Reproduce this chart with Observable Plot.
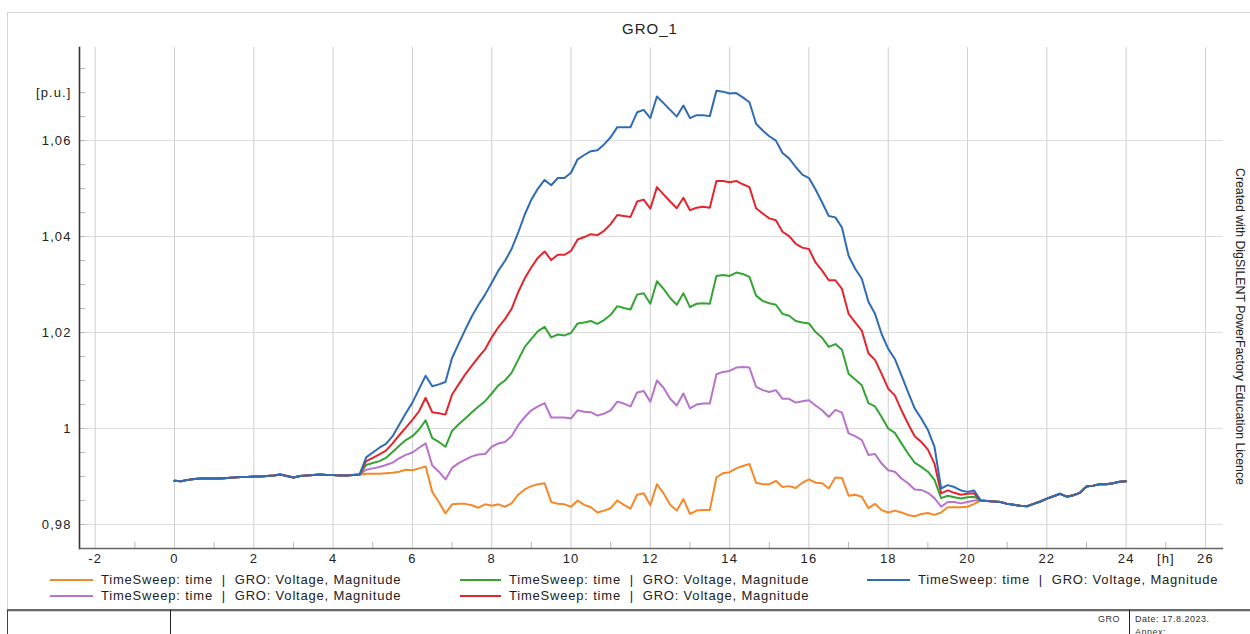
<!DOCTYPE html>
<html>
<head>
<meta charset="utf-8">
<script src="https://cdn.jsdelivr.net/npm/d3@7"></script>
<script src="https://cdn.jsdelivr.net/npm/@observablehq/plot@0.6"></script>
<style>
  html, body { margin: 0; padding: 0; background: #fff; }
  #root { position: relative; width: 1250px; height: 634px; overflow: hidden; background: #fff;
          font-family: "Liberation Sans", Arial, sans-serif; color: #222; }
  .abs { position: absolute; }
  .leg-line { position: absolute; height: 2px; }
  .leg-text { position: absolute; font-size: 13px; letter-spacing: 0.8px; white-space: pre; line-height: 16px; color: #222; }
</style>
</head>
<body>
<div id="root">
  <div class="abs" style="left:7px;top:12px;width:1270px;height:598px;border:1px solid #d6d6d6;"></div>
  <div id="chart" class="abs" style="left:0;top:0;"></div>
  <div class="abs" style="left:550px;width:200px;top:21px;text-align:center;font-size:15px;letter-spacing:1px;line-height:16px;">GRO_1</div>
  <div class="abs" style="left:1232px;top:168px;writing-mode:vertical-rl;font-size:12.3px;line-height:16px;color:#222;">Created with DigSILENT PowerFactory Education Licence</div>
  <div id="legend"></div>
  <div class="abs" style="left:7px;top:609px;width:1260px;height:0;border-top:2px solid #6a6a6a;"></div>
  <div class="abs" style="left:7px;top:610px;width:0;height:30px;border-left:1px solid #444;"></div>
  <div class="abs" style="left:170px;top:610px;width:0;height:30px;border-left:1px solid #222;"></div>
  <div class="abs" style="left:1129px;top:610px;width:0;height:30px;border-left:1px solid #222;"></div>
  <div class="abs" style="left:1098px;top:614px;font-size:9px;letter-spacing:0.5px;color:#333;">GRO</div>
  <div class="abs" style="left:1135px;top:614px;font-size:9px;letter-spacing:0.5px;color:#333;">Date: 17.8.2023.</div>
  <div class="abs" style="left:1135px;top:627px;font-size:9px;letter-spacing:0.5px;color:#333;">Annex:</div>
</div>
<script>
// ---------- data (10-minute steps) ----------
const hours = d3.range(145).map(i => i / 6);   // 0 .. 24 h

// shared part 0:00 .. 4:40 (all five curves coincide)
const headValues = [
  0.9891, 0.9890, 0.9893, 0.9895, 0.9896, 0.9896,
  0.9896, 0.9896, 0.9897, 0.9898, 0.9899, 0.9899,
  0.9900, 0.9900, 0.9901, 0.9902, 0.9904, 0.9901,
  0.9898, 0.9901, 0.9902, 0.9903, 0.9904, 0.9903,
  0.9903, 0.9902, 0.9902, 0.9903, 0.9904
];
// shared part 20:20 .. 24:00
const tailValues = [
  0.9850, 0.9849, 0.9848, 0.9847,
  0.9843, 0.9841, 0.9839, 0.9838, 0.9843, 0.9848,
  0.9854, 0.9859, 0.9864, 0.9858, 0.9861, 0.9866,
  0.9879, 0.9881, 0.9884, 0.9884, 0.9886, 0.9889,
  0.9890
];
// diverging part 4:50 .. 20:10
const orangeMid = [0.9906,
  0.9906, 0.9906, 0.9907, 0.9908, 0.9910, 0.9914,
  0.9913, 0.9917, 0.9921, 0.9868, 0.9847, 0.9823,
  0.9842, 0.9843, 0.9843, 0.9840, 0.9835, 0.9842,
  0.9839, 0.9842, 0.9837, 0.9844, 0.9862, 0.9873,
  0.9880, 0.9884, 0.9886, 0.9847, 0.9843, 0.9842,
  0.9837, 0.9850, 0.9841, 0.9836, 0.9825, 0.9829,
  0.9834, 0.9850, 0.9841, 0.9833, 0.9862, 0.9865,
  0.9840, 0.9884, 0.9865, 0.9841, 0.9829, 0.9853,
  0.9822, 0.9829, 0.9830, 0.9830, 0.9898, 0.9907,
  0.9909, 0.9917, 0.9922, 0.9926, 0.9887, 0.9884,
  0.9884, 0.9891, 0.9878, 0.9880, 0.9876, 0.9887,
  0.9894, 0.9887, 0.9886, 0.9875, 0.9898, 0.9897,
  0.9860, 0.9862, 0.9858, 0.9834, 0.9843, 0.9830,
  0.9825, 0.9829, 0.9825, 0.9820, 0.9817, 0.9822,
  0.9824, 0.9820, 0.9825, 0.9836, 0.9836, 0.9836,
  0.9837, 0.9843];
const purpleMid = [0.9914,
  0.9917, 0.9920, 0.9924, 0.9929, 0.9938, 0.9945,
  0.9950, 0.9960, 0.9969, 0.9923, 0.9910, 0.9894,
  0.9918, 0.9928, 0.9935, 0.9942, 0.9946, 0.9947,
  0.9962, 0.9969, 0.9972, 0.9984, 1.0007, 1.0024,
  1.0038, 1.0046, 1.0053, 1.0023, 1.0023, 1.0023,
  1.0021, 1.0038, 1.0035, 1.0034, 1.0027, 1.0031,
  1.0038, 1.0056, 1.0052, 1.0046, 1.0075, 1.0078,
  1.0056, 1.0100, 1.0085, 1.0062, 1.0048, 1.0073,
  1.0042, 1.0050, 1.0052, 1.0052, 1.0113, 1.0118,
  1.0120, 1.0127, 1.0128, 1.0127, 1.0087, 1.0080,
  1.0076, 1.0080, 1.0062, 1.0062, 1.0054, 1.0057,
  1.0059, 1.0048, 1.0038, 1.0024, 1.0039, 1.0033,
  0.9990, 0.9984, 0.9976, 0.9945, 0.9947, 0.9927,
  0.9913, 0.9910, 0.9896, 0.9886, 0.9873, 0.9872,
  0.9866, 0.9855, 0.9837, 0.9847, 0.9847, 0.9844,
  0.9847, 0.9850];
const greenMid = [0.9924,
  0.9928, 0.9932, 0.9939, 0.9951, 0.9964, 0.9976,
  0.9984, 0.9998, 1.0017, 0.9980, 0.9972, 0.9962,
  0.9995, 1.0009, 1.0021, 1.0034, 1.0046, 1.0057,
  1.0073, 1.0090, 1.0100, 1.0116, 1.0143, 1.0170,
  1.0187, 1.0203, 1.0212, 1.0190, 1.0196, 1.0194,
  1.0199, 1.0219, 1.0221, 1.0224, 1.0218, 1.0226,
  1.0237, 1.0255, 1.0251, 1.0248, 1.0279, 1.0282,
  1.0260, 1.0307, 1.0291, 1.0272, 1.0258, 1.0282,
  1.0253, 1.0260, 1.0261, 1.0260, 1.0318, 1.0320,
  1.0318, 1.0325, 1.0322, 1.0316, 1.0277, 1.0266,
  1.0261, 1.0258, 1.0239, 1.0235, 1.0224, 1.0221,
  1.0219, 1.0201, 1.0189, 1.0170, 1.0176, 1.0164,
  1.0114, 1.0102, 1.0090, 1.0053, 1.0046, 1.0024,
  1.0000, 0.9991, 0.9969, 0.9948, 0.9929, 0.9920,
  0.9910, 0.9893, 0.9855, 0.9860, 0.9857, 0.9854,
  0.9857, 0.9858];
const redMid = [0.9932,
  0.9939, 0.9946, 0.9954, 0.9969, 0.9986, 1.0002,
  1.0018, 1.0036, 1.0064, 1.0034, 1.0032, 1.0029,
  1.0071, 1.0092, 1.0113, 1.0131, 1.0149, 1.0165,
  1.0190, 1.0211, 1.0228, 1.0249, 1.0284, 1.0313,
  1.0336, 1.0356, 1.0369, 1.0351, 1.0362, 1.0362,
  1.0370, 1.0394, 1.0399, 1.0405, 1.0403, 1.0412,
  1.0426, 1.0445, 1.0443, 1.0441, 1.0473, 1.0477,
  1.0458, 1.0503, 1.0488, 1.0473, 1.0459, 1.0481,
  1.0455, 1.0460, 1.0462, 1.0460, 1.0516, 1.0516,
  1.0513, 1.0516, 1.0509, 1.0503, 1.0459, 1.0448,
  1.0438, 1.0434, 1.0410, 1.0401, 1.0385, 1.0377,
  1.0374, 1.0346, 1.0329, 1.0309, 1.0309, 1.0291,
  1.0239, 1.0221, 1.0204, 1.0157, 1.0143, 1.0114,
  1.0083, 1.0069, 1.0038, 1.0010, 0.9984, 0.9972,
  0.9956, 0.9927, 0.9865, 0.9871, 0.9866, 0.9862,
  0.9864, 0.9865];
const blueMid = [0.9940,
  0.9950, 0.9960, 0.9968, 0.9984, 1.0008, 1.0032,
  1.0054, 1.0082, 1.0110, 1.0088, 1.0092, 1.0097,
  1.0147, 1.0177, 1.0206, 1.0234, 1.0258, 1.0279,
  1.0304, 1.0329, 1.0349, 1.0374, 1.0408, 1.0446,
  1.0477, 1.0500, 1.0518, 1.0507, 1.0522, 1.0522,
  1.0533, 1.0561, 1.0570, 1.0578, 1.0580, 1.0592,
  1.0607, 1.0628, 1.0628, 1.0628, 1.0659, 1.0664,
  1.0647, 1.0692, 1.0678, 1.0664, 1.0650, 1.0673,
  1.0647, 1.0653, 1.0653, 1.0651, 1.0704, 1.0702,
  1.0698, 1.0699, 1.0690, 1.0680, 1.0635, 1.0621,
  1.0609, 1.0600, 1.0574, 1.0563, 1.0545, 1.0529,
  1.0522, 1.0498, 1.0471, 1.0443, 1.0440, 1.0419,
  1.0360, 1.0333, 1.0312, 1.0264, 1.0239, 1.0197,
  1.0166, 1.0145, 1.0111, 1.0076, 1.0042, 1.0021,
  0.9997, 0.9962, 0.9875, 0.9882, 0.9878, 0.9871,
  0.9868, 0.9871];

const seriesNames = ["orange", "purple", "green", "red", "blue"];   // draw order
const seriesColors = {orange: "#f5892a", purple: "#b873cb", green: "#34a534", red: "#e2262e", blue: "#2f6cb4"};
const seriesMid = {orange: orangeMid, purple: purpleMid, green: greenMid, red: redMid, blue: blueMid};
const legendLabel = "TimeSweep: time  |  GRO: Voltage, Magnitude";
// legend order as shown: row 1: orange, green, blue; row 2: purple, red
const legendOrder = [["orange", "green", "blue"], ["purple", "red"]];

const xGrid = [-2, 0, 2, 4, 6, 8, 10, 12, 14, 16, 18, 20, 22, 24, 26];
const xMinor = [-1, 1, 3, 5, 7, 9, 11, 13, 15, 17, 19, 21, 23, 25];
const xTicks = [-2, 0, 2, 4, 6, 8, 10, 12, 14, 16, 18, 20, 22, 24, 25, 26];
const xTickLabels = ["-2", "0", "2", "4", "6", "8", "10", "12", "14", "16", "18", "20", "22", "24", "[h]", "26"];
const yGrid = [0.98, 1.00, 1.02, 1.04, 1.06];
const yTicks = [0.98, 1.00, 1.02, 1.04, 1.06, 1.07];
const yTickLabels = ["0,98", "1", "1,02", "1,04", "1,06", "[p.u.]"];
const yMinor = [0.98, 0.985, 0.99, 0.995, 1.0, 1.005, 1.01, 1.015, 1.02, 1.025, 1.03, 1.035,
                1.04, 1.045, 1.05, 1.055, 1.06, 1.065, 1.07, 1.075];

// ---------- build ----------
const rows = [];
for (const name of seriesNames) {
  const vals = headValues.concat(seriesMid[name], tailValues);
  vals.forEach((v, i) => rows.push({series: name, t: hours[i], v}));
}
const xLab = new Map(xTicks.map((d, i) => [d, xTickLabels[i]]));
const yLab = new Map(yTicks.map((d, i) => [d, yTickLabels[i]]));

const lineMarks = seriesNames.map(name =>
  Plot.line(rows.filter(r => r.series === name), {
    x: "t", y: "v", stroke: seriesColors[name], strokeWidth: 2, strokeLinejoin: "round"
  })
);

const chart = Plot.plot({
  width: 1250, height: 570,
  marginLeft: 79, marginRight: 28, marginTop: 47, marginBottom: 22,
  x: {domain: [-2.396, 26.43], label: null},
  y: {domain: [0.975, 1.0794], label: null},
  style: {background: "none", fontFamily: "'Liberation Sans', Arial, sans-serif", fontSize: "13px",
          color: "#222", letterSpacing: "1.1px", overflow: "visible"},
  marks: [
    Plot.gridX(xGrid, {stroke: "#cfcfcf", strokeOpacity: 1}),
    Plot.gridY(yGrid, {stroke: "#dadada", strokeOpacity: 1}),
    Plot.axisY(yMinor, {tickSize: -6, tickFormat: () => "", stroke: "#b8b8b8", label: null}),
    Plot.axisX(xMinor, {tickSize: -6, tickFormat: () => "", stroke: "#b8b8b8", label: null}),
    ...lineMarks,
    Plot.frame({anchor: "left", stroke: "#333", strokeWidth: 1.6}),
    Plot.frame({anchor: "bottom", stroke: "#666", strokeWidth: 1.4}),
    Plot.axisY(yTicks, {tickSize: 0, tickPadding: 8, tickFormat: d => yLab.get(d), label: null}),
    Plot.axisX(xTicks, {tickSize: 0, tickPadding: 5, tickFormat: d => xLab.get(d), label: null})
  ]
});
document.getElementById("chart").appendChild(chart);

// ---------- legend ----------
const legend = document.getElementById("legend");
const colLine = [50, 460, 867];
const colText = [101, 509, 918];
const rowY = [580, 596];
legendOrder.forEach((row, ri) => {
  row.forEach((name, ci) => {
    const ln = document.createElement("div");
    ln.className = "leg-line";
    ln.style.left = colLine[ci] + "px";
    ln.style.width = (colText[ci] - colLine[ci] - 8) + "px";
    ln.style.top = (rowY[ri] - 1) + "px";
    ln.style.background = seriesColors[name];
    legend.appendChild(ln);
    const tx = document.createElement("div");
    tx.className = "leg-text";
    tx.style.left = colText[ci] + "px";
    tx.style.top = (rowY[ri] - 8) + "px";
    tx.textContent = legendLabel;
    legend.appendChild(tx);
  });
});
</script>
</body>
</html>
